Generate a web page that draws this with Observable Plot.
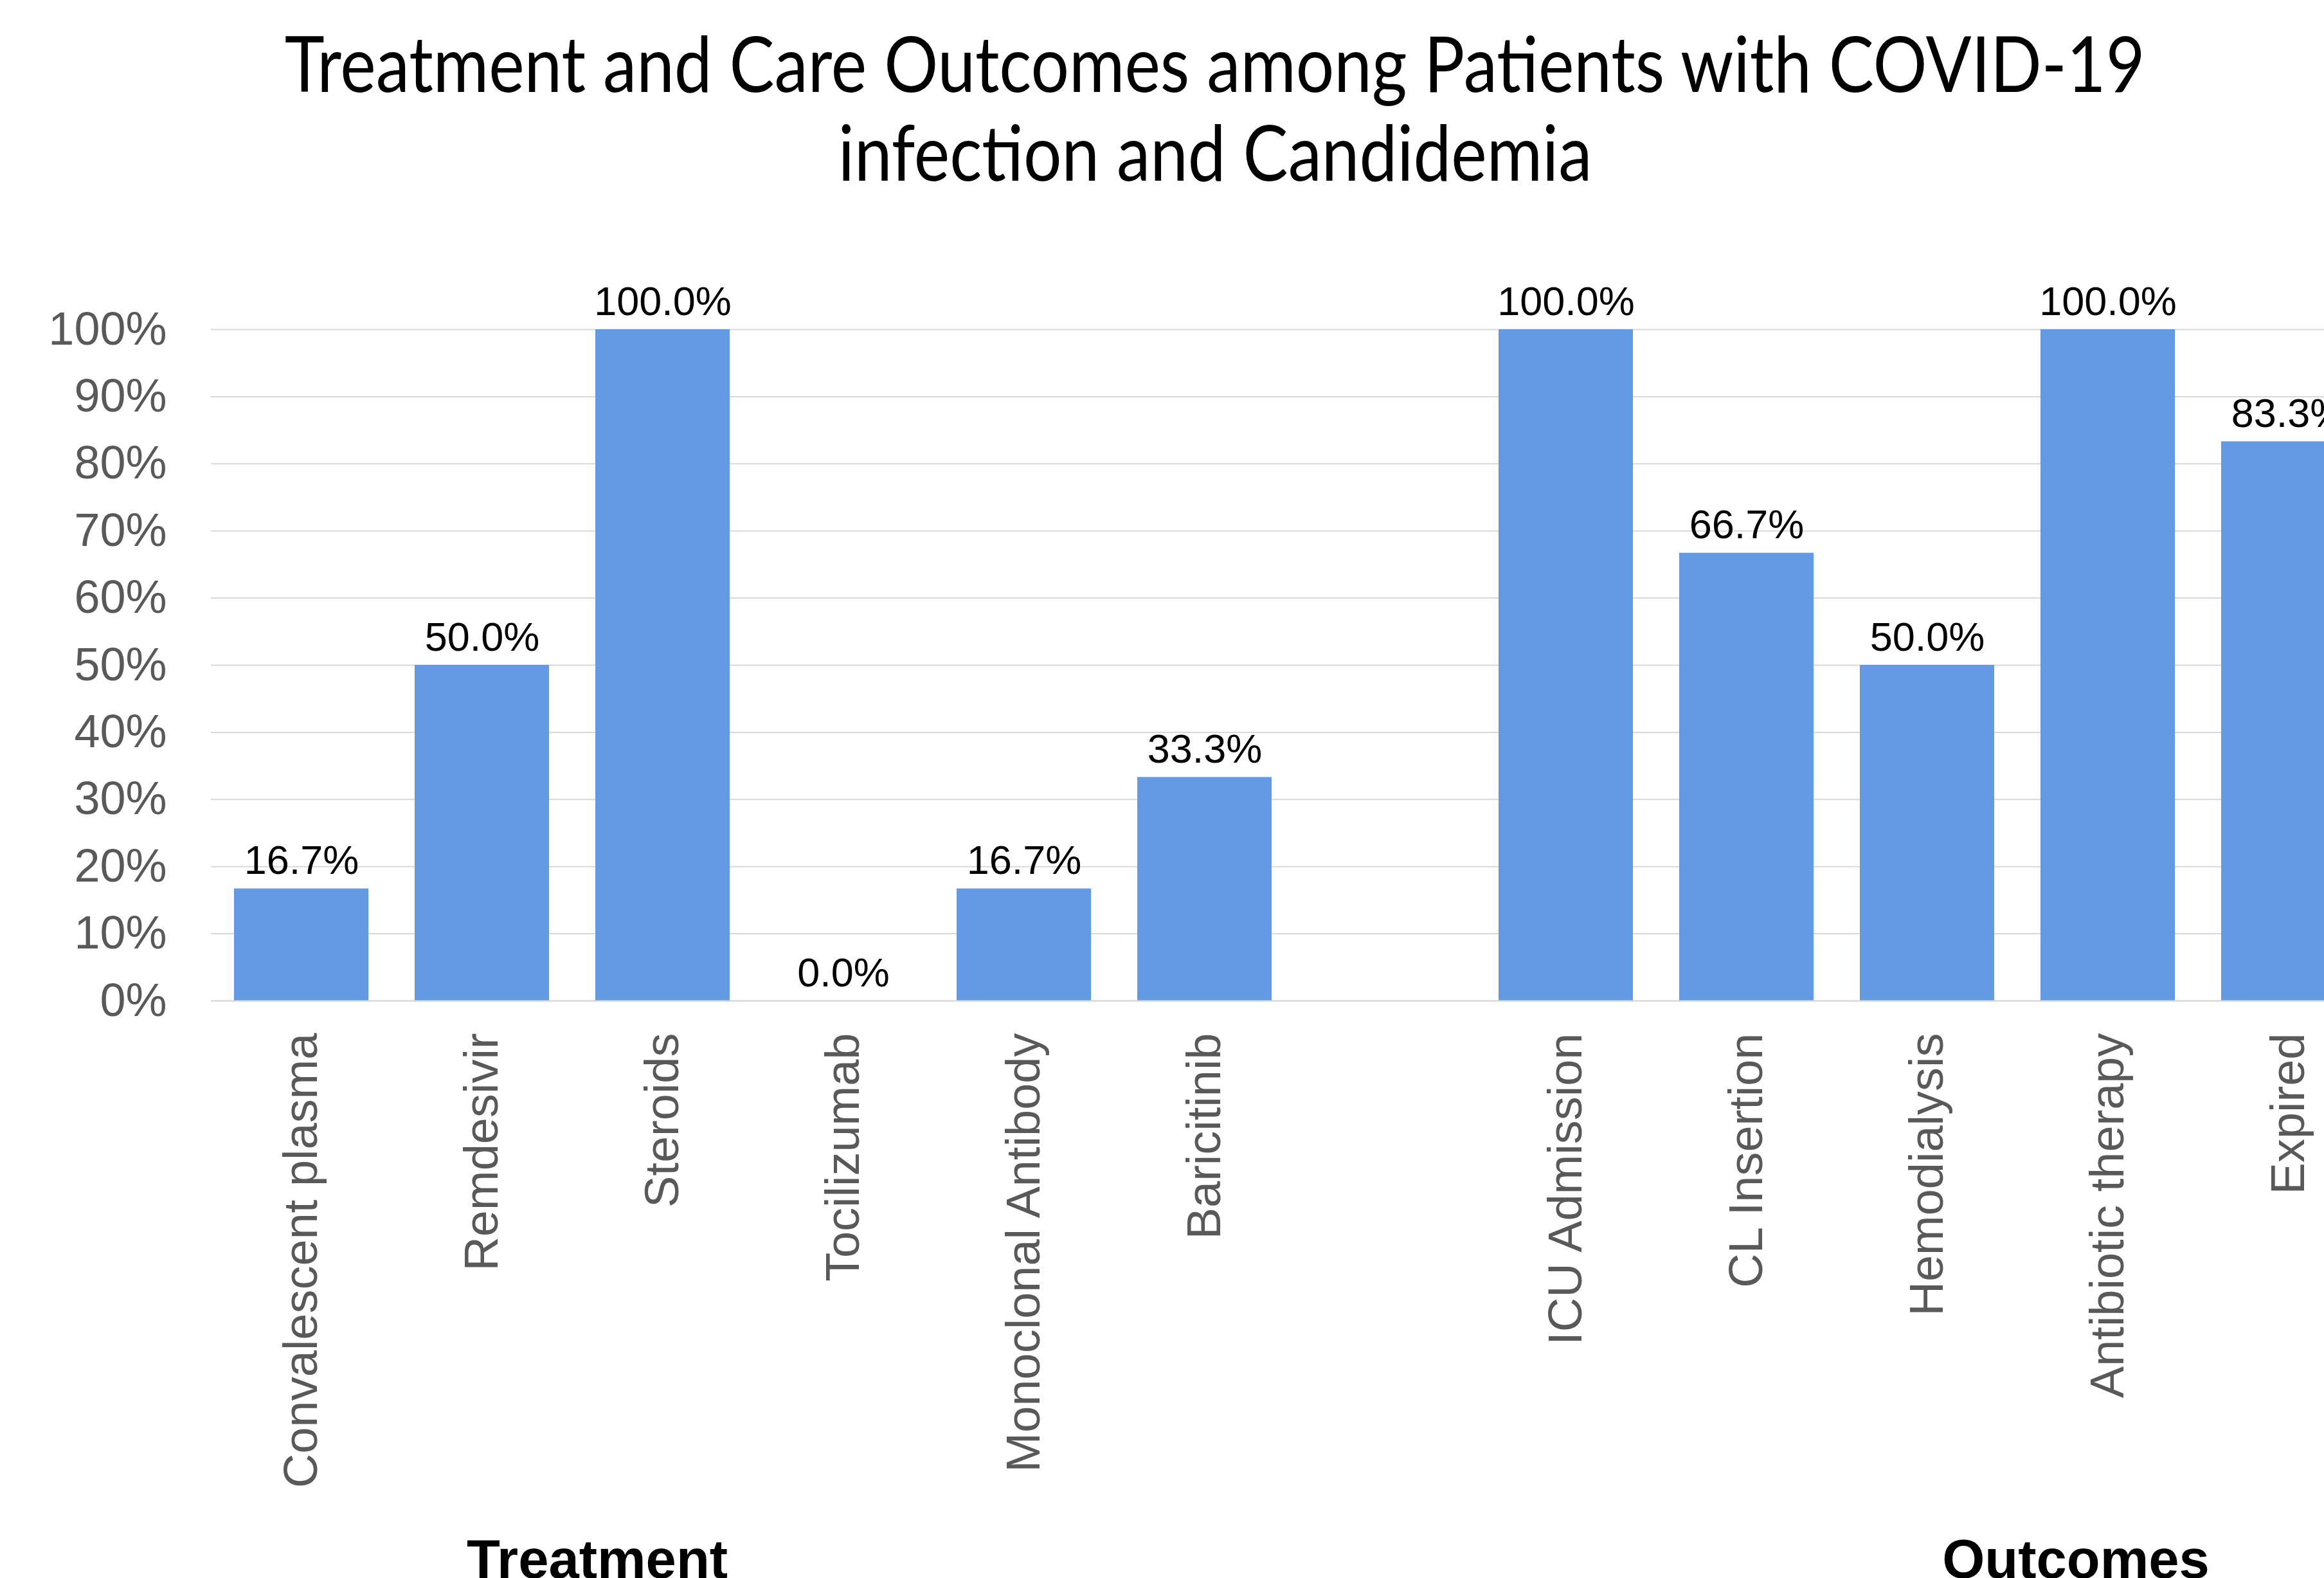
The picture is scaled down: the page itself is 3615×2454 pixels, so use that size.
<!DOCTYPE html>
<html>
<head>
<meta charset="utf-8">
<script src="https://cdn.jsdelivr.net/npm/d3@7"></script>
<script src="https://cdn.jsdelivr.net/npm/@observablehq/plot@0.6"></script>
<style>
  html, body { margin: 0; padding: 0; background: #fff; overflow: hidden; width: 3615px; height: 2454px; }
  #title {
    width: 3780px; height: 340px; box-sizing: border-box; padding-top: 28px;
    font-family: Lato, "Open Sans", sans-serif; font-size: 120px; line-height: 138px;
    text-align: center; color: #000; overflow: hidden;
  }
  #title span { display: inline-block; transform: scaleX(0.875); transform-origin: center; white-space: nowrap; }
  #chart svg { display: block; }
</style>
</head>
<body>
<div id="title"><span id="t1">Treatment and Care Outcomes among Patients with COVID-19</span><br><span id="t2">infection and Candidemia</span></div>
<div id="chart"></div>
<script>
const categories = ["Convalescent plasma", "Remdesivir", "Steroids", "Tocilizumab", "Monoclonal Antibody", "Baricitinib", "",
  "ICU Admission", "CL Insertion", "Hemodialysis", "Antibiotic therapy", "Expired"];
const barCategories = ["Convalescent plasma", "Remdesivir", "Steroids", "Tocilizumab", "Monoclonal Antibody", "Baricitinib",
  "ICU Admission", "CL Insertion", "Hemodialysis", "Antibiotic therapy", "Expired"];
const percents = [0.167, 0.50, 1.00, 0.00, 0.167, 0.333, 1.00, 0.667, 0.50, 1.00, 0.833];
const yTicks = [0, 0.1, 0.2, 0.3, 0.4, 0.5, 0.6, 0.7, 0.8, 0.9, 1.0];
const groupLabels = ["Treatment", "Outcomes"];
const groupAnchors = ["Steroids", "Antibiotic therapy"];

const bars = barCategories.map((c, i) => ({category: c, value: percents[i]}));

const font = "'Liberation Sans', Arial, sans-serif";
const groupMark = (i, dx) => Plot.text([{label: groupLabels[i], category: groupAnchors[i]}], {
  x: "category", text: "label", frameAnchor: "bottom", lineAnchor: "bottom",
  dy: 897, dx, fontSize: 85, fontWeight: "bold", fill: "#000"
});

const plot = Plot.plot({
  width: 3615,
  height: 2114,
  marginTop: 172,
  marginBottom: 898,
  marginLeft: 328,
  marginRight: 0,
  style: {fontFamily: font, background: "#fff"},
  x: {domain: categories, range: [328, 3700], paddingInner: 0.256, paddingOuter: 0.128},
  y: {domain: [0, 1]},
  marks: [
    Plot.gridY(yTicks, {stroke: "#d9d9d9", strokeOpacity: 1, strokeWidth: 2}),
    Plot.barY(bars, {x: "category", y: "value", fill: "#639ae3"}),
    Plot.ruleY([0], {stroke: "#d9d9d9", strokeWidth: 2}),
    Plot.axisY(yTicks, {tickFormat: d3.format(".0%"), tickSize: 0, tickPadding: 69, fontSize: 72, color: "#595959", label: null}),
    Plot.axisX({tickSize: 0, tickPadding: 50, tickRotate: -90, fontSize: 74, color: "#595959", label: null}),
    Plot.text(bars, {x: "category", y: "value", text: d => d3.format(".1%")(d.value), lineAnchor: "bottom", dy: -23, fontSize: 63, fill: "#000"}),
    groupMark(0, -102),
    groupMark(1, -50)
  ]
});
document.getElementById("chart").appendChild(plot);
</script>
</body>
</html>
